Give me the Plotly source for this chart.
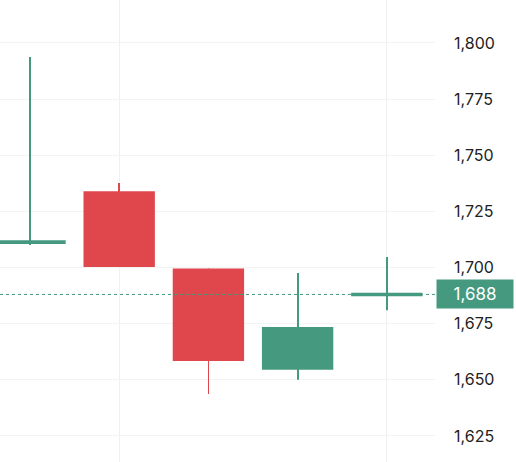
import plotly.graph_objects as go

# candle data (x index, OHLC)
idx = [0, 1, 2, 3, 4]
opens = [1710.5, 1734.0, 1699.5, 1654.5, 1687.2]
highs = [1793.7, 1737.6, 1699.5, 1697.6, 1704.7]
lows = [1710.0, 1700.2, 1643.7, 1650.0, 1681.0]
closes = [1711.3, 1700.2, 1658.4, 1673.5, 1688.0]
last_price = 1688
y_ticks = [1625, 1650, 1675, 1700, 1725, 1750, 1775, 1800]

green = "#44997f"
red = "#e0474d"
colors = [green if c >= o else red for o, c in zip(opens, closes)]

body_base = [min(o, c) for o, c in zip(opens, closes)]
body_h = [max(abs(c - o), 1.6) for o, c in zip(opens, closes)]
wick_h = [h - l for h, l in zip(highs, lows)]

fig = go.Figure()
# wicks
fig.add_trace(go.Bar(x=idx, y=wick_h, base=lows, width=0.009,
                     marker=dict(color=colors, line=dict(width=0)), showlegend=False))
# bodies
fig.add_trace(go.Bar(x=idx, y=body_h, base=body_base, width=0.8,
                     marker=dict(color=colors, line=dict(width=0)), showlegend=False))

# last price dotted line
fig.add_shape(type="line", xref="paper", x0=0, x1=1, y0=last_price, y1=last_price,
              line=dict(color=green, width=1, dash="dot"))
fig.add_annotation(xref="paper", x=1.0, y=last_price, xanchor="left", yanchor="middle",
                   text=f"{last_price:,}", showarrow=False, bgcolor=green,
                   font=dict(color="white", size=17, family="Inter"),
                   borderpad=4, xshift=1, width=68)

fig.update_layout(
    width=516, height=462,
    margin=dict(l=0, r=81, t=0, b=0),
    barmode="overlay",
    plot_bgcolor="white", paper_bgcolor="white",
    font=dict(family="Inter", size=16, color="#222222"),
    xaxis=dict(range=[-0.336, 4.54], tickvals=[1, 4], showticklabels=False,
               showgrid=True, gridcolor="#f0f0f0", zeroline=False),
    yaxis=dict(range=[1613.4, 1819.1], side="right", tickvals=y_ticks,
               tickformat=",", showgrid=True, gridcolor="#f3f3f3",
               zeroline=False, ticks="", ticklabelstandoff=18),
)

fig.write_html("out.html", config={"displayModeBar": False},
               post_script="document.body.style.margin='0';")
